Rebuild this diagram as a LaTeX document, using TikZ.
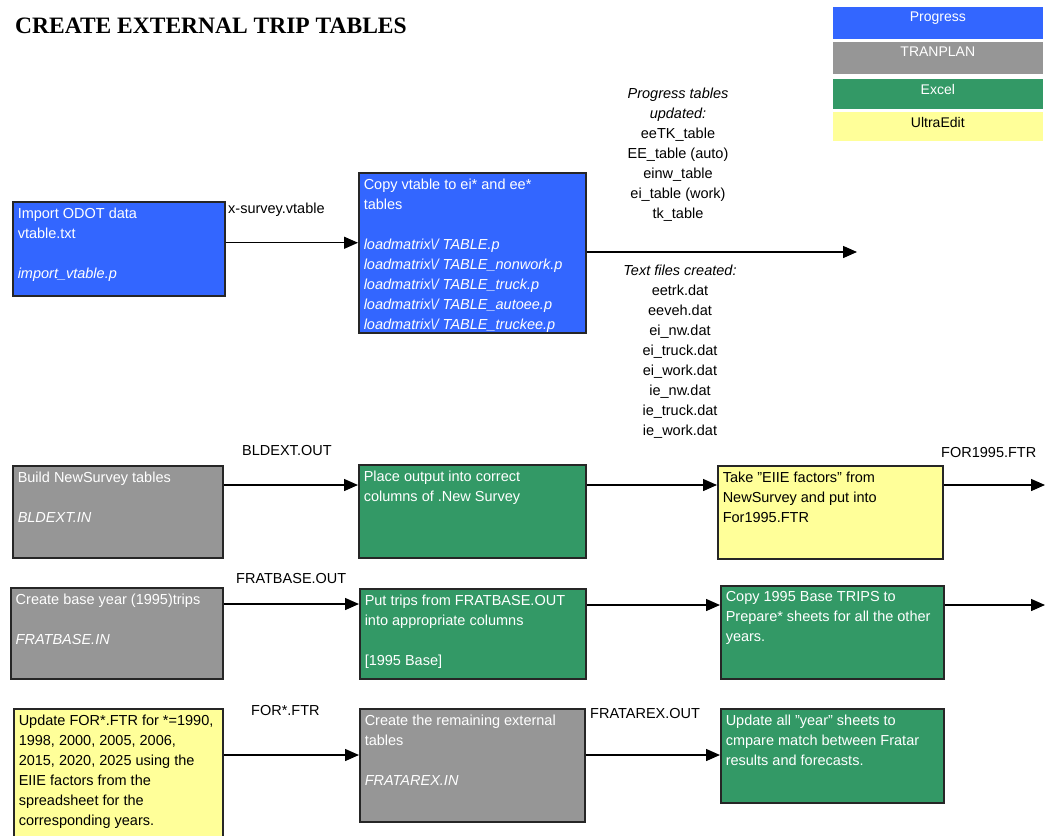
\documentclass[tikz,border=0pt]{standalone}
\usepackage{fontspec}
\setmainfont{Liberation Sans}
\newfontfamily\titlefont{Liberation Serif}
\usetikzlibrary{arrows.meta,calc}
\definecolor{pblue}{HTML}{3366FF}
\definecolor{pgray}{HTML}{969696}
\definecolor{pgreen}{HTML}{339966}
\definecolor{pyellow}{HTML}{FFFF99}
\newcommand{\bt}[3]{\parbox[t][#1][t]{#2}{\raggedright #3}}
\begin{document}
\begin{tikzpicture}[x=1pt,y=-1pt,
  bx/.style={draw=black!85, line width=1.5pt, anchor=north west, inner xsep=5pt, inner ysep=6pt,
    font=\fontsize{14.5}{20}\selectfont},
  lg/.style={draw=white, line width=0.6pt, anchor=north west, inner xsep=0pt, inner ysep=6pt,
    font=\fontsize{14}{18}\selectfont},
  lbl/.style={anchor=west, inner sep=0pt, font=\fontsize{14.5}{20}\selectfont},
  note/.style={anchor=north, inner sep=0pt, align=center, font=\fontsize{14.5}{20}\selectfont},
  arr/.style={-{Triangle[length=14pt,width=12pt]}, line width=1.4pt}]
\useasboundingbox (0,0) rectangle (1048,835);
\clip (0,0) rectangle (1048,835);

% title
\node[anchor=west, inner sep=0pt, font=\titlefont\bfseries\fontsize{23.5}{26}\selectfont] (title) at (15,26) {CREATE EXTERNAL TRIP TABLES};

% legend
\node[lg, fill=pblue, text=white] (lp) at (832,6) {\bt{21pt}{211pt}{\centering Progress}};
\node[lg, fill=pgray, text=white] (lt) at (832,41) {\bt{21pt}{211pt}{\centering TRANPLAN}};
\node[lg, fill=pgreen, text=white] (le) at (832,78) {\bt{19pt}{211pt}{\centering Excel}};
\node[lg, fill=pyellow, text=black] (lu) at (832,111) {\bt{18pt}{211pt}{\centering UltraEdit}};

% row 1
\node[bx, fill=pblue, text=white] (b1) at (12,201) {\bt{82pt}{202pt}{Import ODOT data\\vtable.txt\\[20pt]\textit{import\_vtable.p}}};
\node[bx, fill=pblue, text=white] (b2) at (358,172) {\bt{148pt}{217pt}{Copy vtable to ei* and ee*\\tables\\[20pt]
  \textit{loadmatrix\textbackslash/ TABLE.p}\\
  \textit{loadmatrix\textbackslash/ TABLE\_nonwork.p}\\
  \textit{loadmatrix\textbackslash/ TABLE\_truck.p}\\
  \textit{loadmatrix\textbackslash/ TABLE\_autoee.p}\\
  \textit{loadmatrix\textbackslash/ TABLE\_truckee.p}}};
\node[lbl] (l1) at (228,210) {x-survey.vtable};
\draw[arr] ([yshift=6pt]b1.east) -- ([yshift=6pt]b1.east -| b2.west);
\coordinate (e1) at (857,252);
\draw[arr] (b2.east |- e1) -- (e1);
\node[note] (pt) at (678,88) {\textit{Progress tables}\\\textit{updated:}\\eeTK\_table\\EE\_table (auto)\\einw\_table\\ei\_table (work)\\tk\_table};
\node[note] (tf) at (680,265) {\textit{Text files created:}\\eetrk.dat\\eeveh.dat\\ei\_nw.dat\\ei\_truck.dat\\ei\_work.dat\\ie\_nw.dat\\ie\_truck.dat\\ie\_work.dat};

% row 2
\node[bx, fill=pgray, text=white] (b3) at (12,465) {\bt{80pt}{200pt}{Build NewSurvey tables\\[20pt]\textit{BLDEXT.IN}}};
\node[bx, fill=pgreen, text=white] (b4) at (358,464) {\bt{81pt}{217pt}{Place output into correct\\columns of .New Survey}};
\node[bx, fill=pyellow, text=black] (b5) at (717,465) {\bt{81pt}{215pt}{Take "EIIE factors" from\\NewSurvey and put into\\For1995.FTR}};
\node[lbl] (l2) at (242,451) {BLDEXT.OUT};
\node[lbl] (l3) at (941,453) {FOR1995.FTR};
\draw[arr] ([yshift=-20pt]b3.north east) -- ([yshift=-20pt]b3.north east -| b4.west);
\draw[arr] ([yshift=-21pt]b4.north east) -- ([yshift=-21pt]b4.north east -| b5.west);
\coordinate (e2) at (1045,485);
\draw[arr] (b5.east |- e2) -- (e2);

% row 3
\node[bx, fill=pgray, text=white] (b6) at (10,587) {\bt{79pt}{202pt}{Create base year (1995)trips\\[20pt]\textit{FRATBASE.IN}}};
\node[bx, fill=pgreen, text=white] (b7) at (359,588) {\bt{78pt}{216pt}{Put trips from FRATBASE.OUT\\into appropriate columns\\[20pt][1995 Base]}};
\node[bx, fill=pgreen, text=white] (b8) at (720,585) {\bt{81pt}{213pt}{Copy 1995 Base TRIPS to\\Prepare* sheets for all the other\\years.}};
\node[lbl] (l4) at (236,578) {FRATBASE.OUT};
\draw[arr] ([yshift=-17pt]b6.north east) -- ([yshift=-17pt]b6.north east -| b7.west);
\draw[arr] ([yshift=-17pt]b7.north east) -- ([yshift=-17pt]b7.north east -| b8.west);
\coordinate (e3) at (1045,605);
\draw[arr] (b8.east |- e3) -- (e3);

% row 4
\node[bx, fill=pyellow, text=black] (b9) at (13,708) {\bt{128pt}{199pt}{Update FOR*.FTR for *=1990,\\1998, 2000, 2005, 2006,\\2015, 2020, 2025 using the\\EIIE factors from the\\spreadsheet for the\\corresponding years.}};
\node[bx, fill=pgray, text=white] (b10) at (359,708) {\bt{101pt}{215pt}{Create the remaining external\\tables\\[20pt]\textit{FRATAREX.IN}}};
\node[bx, fill=pgreen, text=white] (b11) at (720,708) {\bt{82pt}{213pt}{Update all "year" sheets to\\cmpare match between Fratar\\results and forecasts.}};
\node[lbl] (l5) at (251,710) {FOR*.FTR};
\node[lbl] (l6) at (590,713) {FRATAREX.OUT};
\draw[arr] ([yshift=-47pt]b9.north east) -- ([yshift=-47pt]b9.north east -| b10.west);
\draw[arr] ([yshift=-47pt]b10.north east) -- ([yshift=-47pt]b10.north east -| b11.west);
\end{tikzpicture}
\end{document}
